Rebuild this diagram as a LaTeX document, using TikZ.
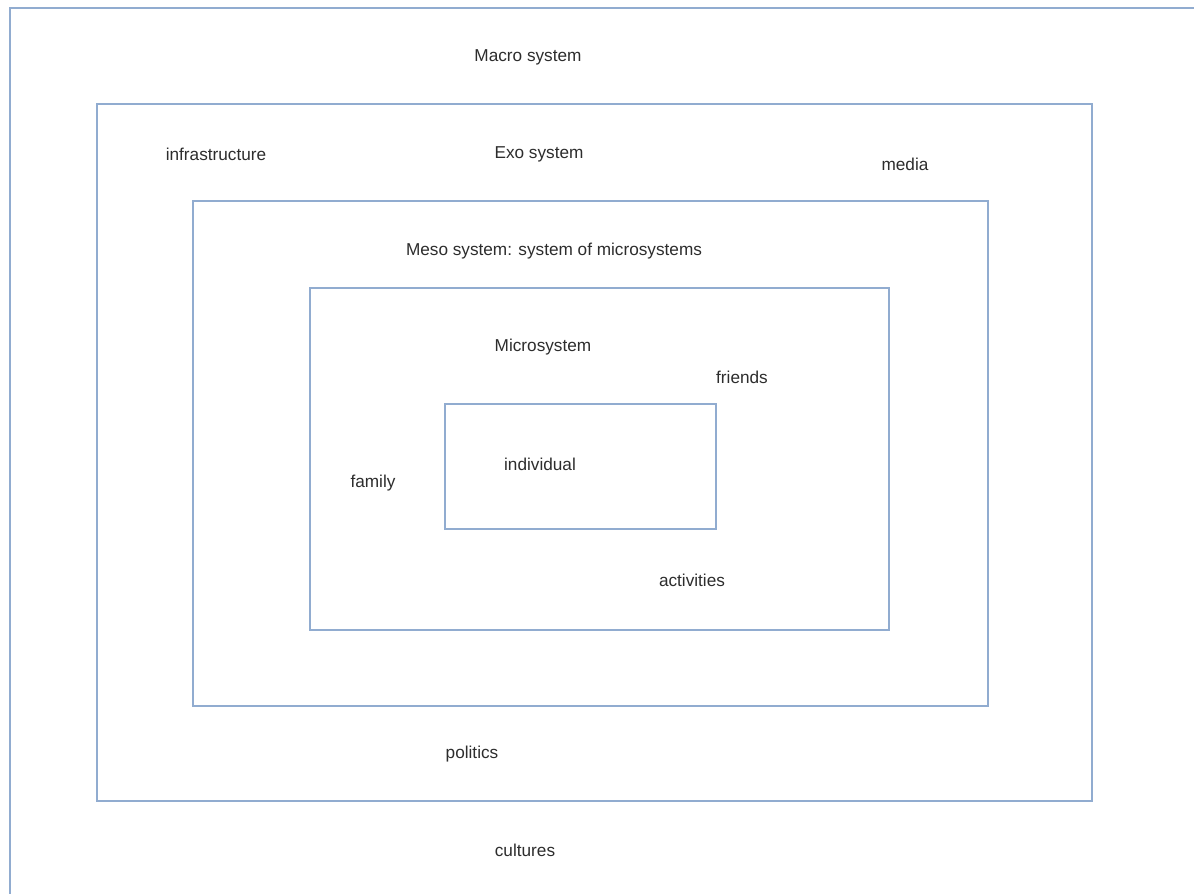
\documentclass[tikz,border=0pt]{standalone}
\usepackage{fontspec}
\setmainfont{Liberation Sans}
\definecolor{framecol}{RGB}{145,172,208}
\definecolor{textcol}{RGB}{45,45,45}
\begin{document}
\begin{tikzpicture}[x=0.5pt,y=-0.5pt,
  frame/.style={draw=framecol,line width=1pt},
  lbl/.style={text=textcol,font=\fontsize{8.6}{10}\selectfont,inner sep=0pt,yshift=-1pt}]
\clip (0,0) rectangle (1194,894);
\fill[white] (0,0) rectangle (1194,894);
% nested system frames
\draw[frame] (10,8) rectangle (1210,910);
\draw[frame] (97,104) rectangle (1092,801);
\draw[frame] (193,201) rectangle (988,706);
\draw[frame] (310,288) rectangle (889,630);
\draw[frame] (445,404) rectangle (716,529);
% labels
\node[lbl] (macro) at (528,55) {Macro system};
\node[lbl] (exo) at (539,152) {Exo system};
\node[lbl] (infra) at (216,152) {infrastructure};
\node[lbl] (media) at (905,162) {media};
\node[lbl] (meso) at (554,249) {Meso system: system of microsystems};
\node[lbl] (micro) at (543,345) {Microsystem};
\node[lbl] (friends) at (742,375) {friends};
\node[lbl] (individual) at (540,462) {individual};
\node[lbl] (family) at (373,481) {family};
\node[lbl] (activities) at (692,578) {activities};
\node[lbl] (politics) at (472,752) {politics};
\node[lbl] (cultures) at (525,848) {cultures};
\end{tikzpicture}
\end{document}
